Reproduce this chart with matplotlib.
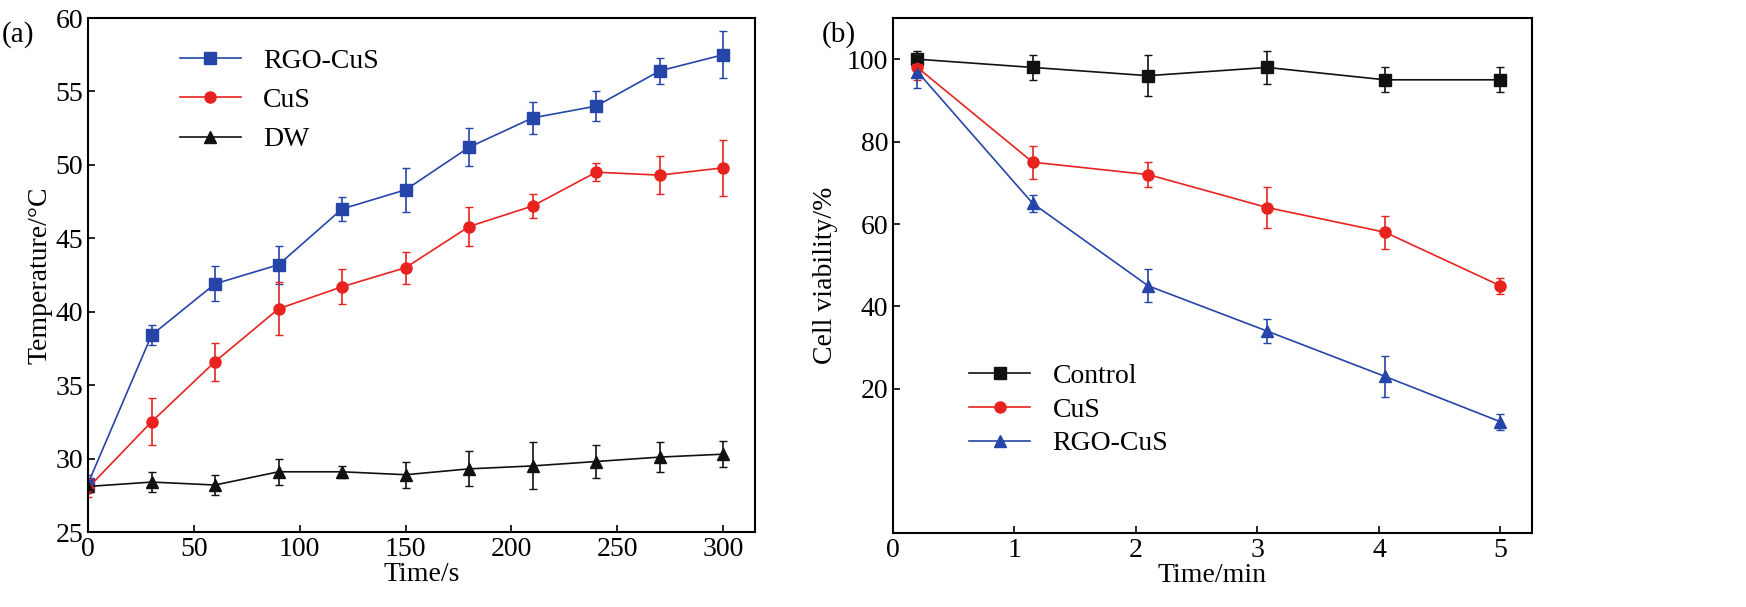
import numpy as np
import matplotlib.pyplot as plt

plt.rcParams['font.family'] = ['Liberation Serif', 'DejaVu Serif']
plt.rcParams['font.size'] = 20

# panel (a)
t_s = [0, 30, 60, 90, 120, 150, 180, 210, 240, 270, 300]
rgo_a = [28.3, 38.4, 41.9, 43.2, 47.0, 48.3, 51.2, 53.2, 54.0, 56.4, 57.5]
rgo_a_err = [0.6, 0.7, 1.2, 1.3, 0.8, 1.5, 1.3, 1.1, 1.0, 0.9, 1.6]
cus_a = [28.0, 32.5, 36.6, 40.2, 41.7, 43.0, 45.8, 47.2, 49.5, 49.3, 49.8]
cus_a_err = [0.6, 1.6, 1.3, 1.8, 1.2, 1.1, 1.3, 0.8, 0.6, 1.3, 1.9]
dw_a = [28.1, 28.4, 28.2, 29.1, 29.1, 28.9, 29.3, 29.5, 29.8, 30.1, 30.3]
dw_a_err = [0.4, 0.7, 0.7, 0.9, 0.4, 0.9, 1.2, 1.6, 1.1, 1.0, 0.9]

# panel (b)
t_min = [0.2, 1.15, 2.1, 3.08, 4.05, 5.0]
ctrl_b = [100, 98, 96, 98, 95, 95]
ctrl_b_err = [2, 3, 5, 4, 3, 3]
cus_b = [98, 75, 72, 64, 58, 45]
cus_b_err = [3, 4, 3, 5, 4, 2]
rgo_b = [97, 65, 45, 34, 23, 12]
rgo_b_err = [4, 2, 4, 3, 5, 2]

blue = '#2545a8'
red = '#e8231f'
black = '#111111'

fig = plt.figure(figsize=(17.46, 6.07), dpi=100)
ax1 = fig.add_axes([88/1746, 1-532/607, 667/1746, 514/607])
ax2 = fig.add_axes([893/1746, 1-533/607, 639/1746, 515/607])

kw = dict(lw=1.2, ms=8, capsize=3, elinewidth=1.2)


def draw(ax, x, y, e, c, m, lab):
    ax.errorbar(x, y, yerr=e, color=c, marker=m, ls='none', capsize=3, elinewidth=1.2)
    ax.plot(x, y, color=c, marker=m, lw=1.2, ms=8, label=lab)


draw(ax1, t_s, rgo_a, rgo_a_err, blue, 's', 'RGO-CuS')
draw(ax1, t_s, cus_a, cus_a_err, red, 'o', 'CuS')
draw(ax1, t_s, dw_a, dw_a_err, black, '^', 'DW')
ax1.set_xlim(0, 315)
ax1.set_ylim(25, 60)
ax1.set_xticks([0, 50, 100, 150, 200, 250, 300])
ax1.set_xlabel('Time/s', labelpad=0)
ax1.set_ylabel('Temperature/°C', labelpad=2)
ax1.legend(loc='upper left', bbox_to_anchor=(0.1, 0.99), frameon=False, handlelength=2.2)
fig.text(2/1746, 1-42/607, '(a)', fontsize=21)

draw(ax2, t_min, ctrl_b, ctrl_b_err, black, 's', 'Control')
draw(ax2, t_min, cus_b, cus_b_err, red, 'o', 'CuS')
draw(ax2, t_min, rgo_b, rgo_b_err, blue, '^', 'RGO-CuS')
ax2.set_xlim(0, 5.26)
ax2.set_ylim(-15, 110)
ax2.set_yticks([20, 40, 60, 80, 100])
ax2.set_xticks([0, 1, 2, 3, 4, 5])
ax2.set_xlabel('Time/min', labelpad=0)
ax2.set_ylabel('Cell viability/%', labelpad=6)
ax2.legend(loc='lower left', bbox_to_anchor=(0.08, 0.1), frameon=False, handlelength=2.2,
           labelspacing=0.3)
fig.text(822/1746, 1-42/607, '(b)', fontsize=21)

for ax in (ax1, ax2):
    ax.tick_params(direction='in', length=5, width=1.2)
    for s in ax.spines.values():
        s.set_linewidth(1.5)

fig.savefig('out.png', dpi=100)
